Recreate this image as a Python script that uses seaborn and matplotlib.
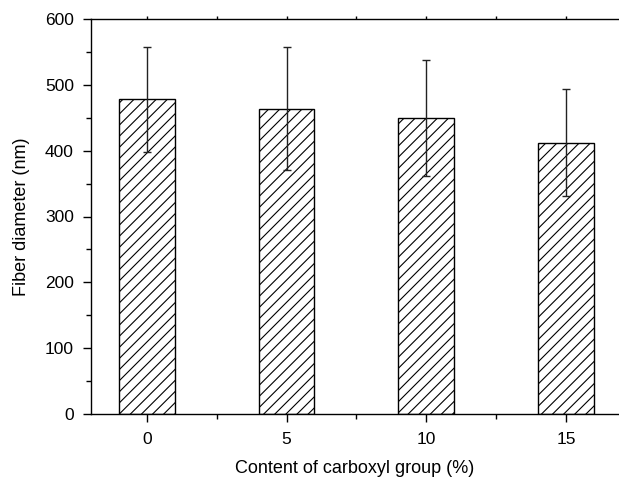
import matplotlib
matplotlib.use("Agg")
import numpy as np
import pandas as pd
import seaborn as sns
from matplotlib import pyplot as plt
from matplotlib.ticker import MultipleLocator

carboxyl_content = [0, 5, 10, 15]
fiber_diameter = [478, 464, 449, 412]
diameter_sd = [80, 94, 88, 81]

sns.set_style("ticks")
plt.rcParams["font.family"] = ["Liberation Sans", "DejaVu Sans"]
plt.rcParams["hatch.linewidth"] = 0.8
# seaborn greys the text, the figure uses plain black
for key in ["text.color", "axes.labelcolor", "xtick.color", "ytick.color"]:
    plt.rcParams[key] = "black"

df = pd.DataFrame({"content": carboxyl_content, "diameter": fiber_diameter})

fig = plt.figure(figsize=(6.19, 4.78), dpi=100)
ax = fig.add_axes([91 / 619, 64 / 478, 528 / 619, 395 / 478])

sns.barplot(
    data=df, x="content", y="diameter", native_scale=True, width=0.4,
    color="white", edgecolor="black", linewidth=1.0, hatch="///",
    errorbar=None, ax=ax,
)
ax.errorbar(
    carboxyl_content, fiber_diameter, yerr=diameter_sd, fmt="none",
    ecolor="#222222", elinewidth=1.0, capsize=2.6, capthick=1.0,
)

ax.set_xlim(-2, 16.9)
ax.set_ylim(0, 600)
ax.xaxis.set_major_locator(MultipleLocator(5))
ax.xaxis.set_minor_locator(MultipleLocator(2.5))
ax.yaxis.set_major_locator(MultipleLocator(100))
ax.yaxis.set_minor_locator(MultipleLocator(50))

for side in ["left", "bottom", "top"]:
    ax.spines[side].set_linewidth(1.0)
    ax.spines[side].set_color("black")
ax.spines["right"].set_visible(False)

ax.tick_params(axis="both", which="major", direction="out", length=5.8,
               width=1.0, labelsize=12.5, color="black", labelcolor="black")
ax.tick_params(axis="y", which="major", pad=6.5)
ax.tick_params(axis="x", which="major", pad=7.5)
ax.tick_params(axis="both", which="minor", direction="out", length=3.5,
               width=1.0, color="black")
ax.tick_params(axis="x", which="both", top=True, labeltop=False)
for t in ax.xaxis.get_major_ticks() + ax.xaxis.get_minor_ticks():
    t.tick2line.set_markersize(2)

ax.set_xlabel("Content of carboxyl group (%)", fontsize=13, labelpad=9,
              color="black")
ax.set_ylabel("Fiber diameter (nm)", fontsize=13, labelpad=11, color="black")

fig.savefig("out.png", dpi=100)
